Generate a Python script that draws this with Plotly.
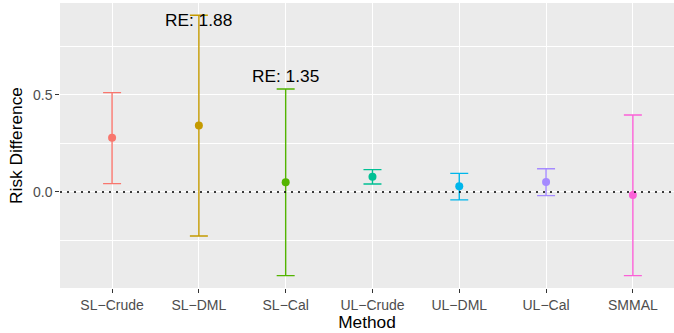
import plotly.graph_objects as go

methods = ["SL−Crude", "SL−DML", "SL−Cal", "UL−Crude", "UL−DML", "UL−Cal", "SMMAL"]
estimate = [0.280, 0.342, 0.050, 0.079, 0.029, 0.052, -0.015]
upper = [0.512, 0.911, 0.531, 0.115, 0.096, 0.120, 0.397]
lower = [0.043, -0.227, -0.431, 0.041, -0.041, -0.019, -0.431]
colors = ["#F8766D", "#C49A00", "#53B400", "#00C094", "#00B6EB", "#A58AFF", "#FB61D7"]

re_methods = ["SL−DML", "SL−Cal"]
re_labels = ["RE: 1.88", "RE: 1.35"]
re_y = [0.887, 0.600]

fig = go.Figure()
for i, m in enumerate(methods):
    fig.add_trace(go.Scatter(
        x=[i + 1], y=[estimate[i]], mode="markers",
        marker=dict(color=colors[i], size=8),
        error_y=dict(type="data", symmetric=False,
                     array=[upper[i] - estimate[i]],
                     arrayminus=[estimate[i] - lower[i]],
                     color=colors[i], thickness=1.4, width=9),
        showlegend=False, name=m))

for m, lab, yy in zip(re_methods, re_labels, re_y):
    fig.add_annotation(x=methods.index(m) + 1, y=yy, text=lab, showarrow=False,
                       font=dict(size=17.3, color="black"), xref="x", yref="y")

fig.add_hline(y=0, line=dict(color="black", width=1.4, dash="2px,5px"))

font = "Liberation Sans, Arial, sans-serif"
fig.update_layout(
    width=674, height=333,
    margin=dict(l=60, r=0, t=3, b=45),
    paper_bgcolor="white", plot_bgcolor="#EBEBEB",
    font=dict(family=font),
    xaxis=dict(range=[0.4, 7.474], tickvals=list(range(1, 8)), ticktext=methods,
               automargin=False,
               showgrid=True, gridcolor="white", gridwidth=1.1, zeroline=False,
               ticks="outside", ticklen=3.7, tickcolor="#333333", tickwidth=1.1,
               tickfont=dict(size=14, color="#4D4D4D"),
               title=dict(text="Method", font=dict(size=17.3, color="black"), standoff=3)),
    yaxis=dict(range=[-0.495, 0.974], tickvals=[0.0, 0.5], ticktext=["0.0", "0.5"],
               automargin=False,
               showgrid=True, gridcolor="white", gridwidth=1.1, zeroline=False,
               ticks="outside", ticklen=3.7, tickcolor="#333333", tickwidth=1.1,
               tickfont=dict(size=14, color="#4D4D4D"),
               minor=dict(tickvals=[-0.25, 0.25, 0.75], showgrid=True,
                          gridcolor="white", gridwidth=0.55, ticks=""),
               title=dict(text="Risk Difference", font=dict(size=17.3, color="black"), standoff=5)),
)

fig.write_html("out.html", config={"displayModeBar": False},
               post_script="document.body.style.margin='0';document.body.style.overflow='hidden';")
